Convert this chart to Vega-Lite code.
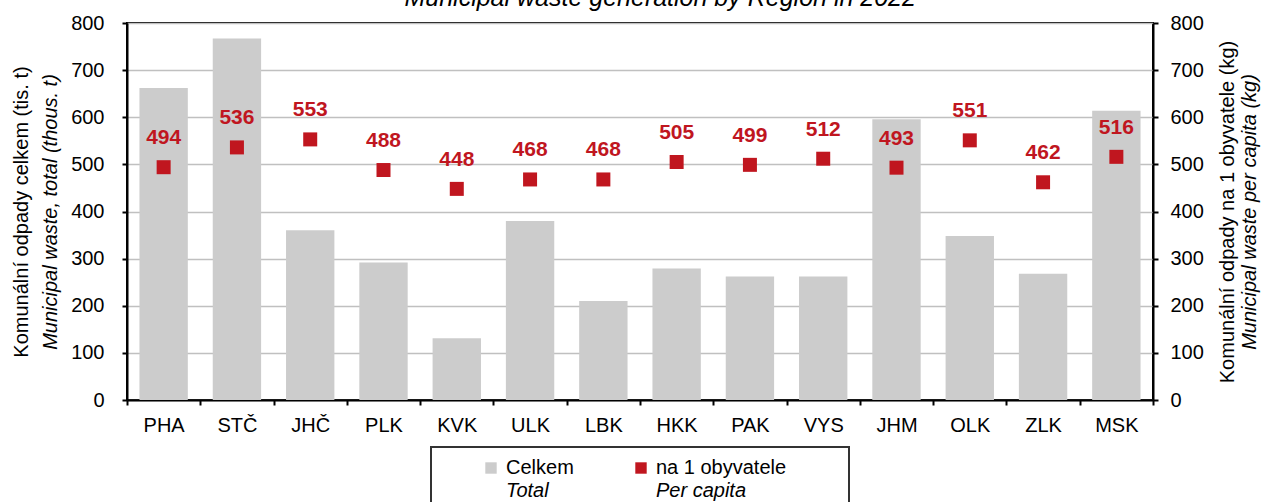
{
  "$schema": "https://vega.github.io/schema/vega-lite/v6.json",
  "padding": {"top": -14, "left": 10, "right": 0, "bottom": 0},
  "config": {
    "font": "Liberation Sans",
    "axis": {"labelFont": "Liberation Sans", "titleFont": "Liberation Sans", "labelFontSize": 20, "titleFontSize": 20, "labelColor": "#000", "titleColor": "#000", "titleFontWeight": "normal", "domainColor": "#000", "domainWidth": 2, "tickColor": "#000", "tickWidth": 2, "tickSize": 5},
    "concat": {"spacing": 47}
  },
  "title": {"text": "Municipal waste generation by Region in 2022", "fontStyle": "italic", "fontWeight": "normal", "fontSize": 25, "font": "Liberation Sans", "color": "#000", "anchor": "middle", "dx": 25, "offset": 1},
  "datasets": {
    "regions": [
      {"region": "PHA", "total": 662, "percap": 494},
      {"region": "STČ", "total": 767, "percap": 536},
      {"region": "JHČ", "total": 360, "percap": 553},
      {"region": "PLK", "total": 292, "percap": 488},
      {"region": "KVK", "total": 131, "percap": 448},
      {"region": "ULK", "total": 380, "percap": 468},
      {"region": "LBK", "total": 210, "percap": 468},
      {"region": "HKK", "total": 279, "percap": 505},
      {"region": "PAK", "total": 262, "percap": 499},
      {"region": "VYS", "total": 262, "percap": 512},
      {"region": "JHM", "total": 596, "percap": 493},
      {"region": "OLK", "total": 348, "percap": 551},
      {"region": "ZLK", "total": 268, "percap": 462},
      {"region": "MSK", "total": 614, "percap": 516}
    ],
    "legend": [
      {"series": "Celkem", "line": "cz", "label": "Celkem"},
      {"series": "Celkem", "line": "en", "label": "Total"},
      {"series": "na 1 obyvatele", "line": "cz", "label": "na 1 obyvatele"},
      {"series": "na 1 obyvatele", "line": "en", "label": "Per capita"}
    ]
  },
  "vconcat": [
    {
      "width": 1026,
      "height": 377,
      "view": {"stroke": "#000", "strokeWidth": 2},
      "data": {"name": "regions"},
      "encoding": {
        "x": {"field": "region", "type": "nominal", "sort": null, "title": null,
              "scale": {"paddingInner": 0, "paddingOuter": 0},
              "axis": {"labelAngle": 0, "tickBand": "extent", "labelPadding": 10, "grid": false}}
      },
      "layer": [
        {
          "mark": {"type": "bar", "color": "#CCCCCC", "width": {"band": 0.66}},
          "encoding": {
            "y": {"field": "total", "type": "quantitative", "scale": {"domain": [0, 800]},
                  "axis": {"orient": "left", "values": [0,100,200,300,400,500,600,700,800], "grid": true, "gridColor": "#C0C0C0", "gridWidth": 1.5, "title": "Municipal waste, total (thous. t)", "titleFontStyle": "italic", "titlePadding": 10, "labelPadding": 18}}
          }
        },
        {
          "mark": {"type": "bar", "opacity": 0, "width": {"band": 0.66}},
          "encoding": {
            "y": {"field": "total", "type": "quantitative", "scale": {"domain": [0, 800]},
                  "axis": {"orient": "left", "labels": false, "ticks": false, "domain": false, "grid": false, "title": "Komunální odpady celkem (tis. t)", "titlePadding": 96}}
          }
        },
        {
          "mark": {"type": "point", "shape": "square", "filled": true, "color": "#C0161F", "size": 196, "opacity": 1},
          "encoding": {
            "y": {"field": "percap", "type": "quantitative", "scale": {"domain": [0, 800]},
                  "axis": {"orient": "right", "values": [0,100,200,300,400,500,600,700,800], "grid": false, "title": "Municipal waste per capita (kg)", "titleFontStyle": "italic", "titleAngle": 270, "titleBaseline": "top", "titlePadding": 36, "labelPadding": 12}}
          }
        },
        {
          "mark": {"type": "text", "color": "#C0161F", "fontWeight": "bold", "fontSize": 21, "baseline": "alphabetic", "dy": -23},
          "encoding": {
            "y": {"field": "percap", "type": "quantitative", "scale": {"domain": [0, 800]},
                  "axis": {"orient": "right", "labels": false, "ticks": false, "domain": false, "grid": false, "title": "Komunální odpady na 1 obyvatele (kg)", "titleAngle": 270, "titleBaseline": "top", "titlePadding": 64}},
            "text": {"field": "percap", "type": "quantitative"}
          }
        }
      ],
      "resolve": {"scale": {"y": "independent"}, "axis": {"y": "independent"}}
    },
    {
      "width": 418,
      "height": 62,
      "view": {"stroke": "#333", "strokeWidth": 2},
      "data": {"name": "legend"},
      "encoding": {
        "x": {"field": "series", "type": "nominal", "axis": null, "scale": {"domain": ["Celkem", "na 1 obyvatele"], "range": [60, 210], "padding": 0}},
        "y": {"field": "line", "type": "nominal", "axis": null, "scale": {"domain": ["cz", "en"], "range": [21, 44], "padding": 0}}
      },
      "layer": [
        {
          "transform": [{"filter": "datum.line === 'cz'"}],
          "mark": {"type": "point", "shape": "square", "filled": true, "size": 130, "opacity": 1},
          "encoding": {
            "color": {"field": "series", "type": "nominal", "legend": null, "scale": {"domain": ["Celkem", "na 1 obyvatele"], "range": ["#CCCCCC", "#C0161F"]}}
          }
        },
        {
          "transform": [{"filter": "datum.line === 'cz'"}],
          "mark": {"type": "text", "align": "left", "baseline": "middle", "fontSize": 20, "dx": 15, "color": "#000"},
          "encoding": {"text": {"field": "label"}}
        },
        {
          "transform": [{"filter": "datum.line === 'en'"}],
          "mark": {"type": "text", "align": "left", "baseline": "middle", "fontSize": 20, "fontStyle": "italic", "dx": 15, "color": "#000"},
          "encoding": {"text": {"field": "label"}}
        }
      ]
    }
  ],
  "center": true,
  "bounds": "flush"
}
